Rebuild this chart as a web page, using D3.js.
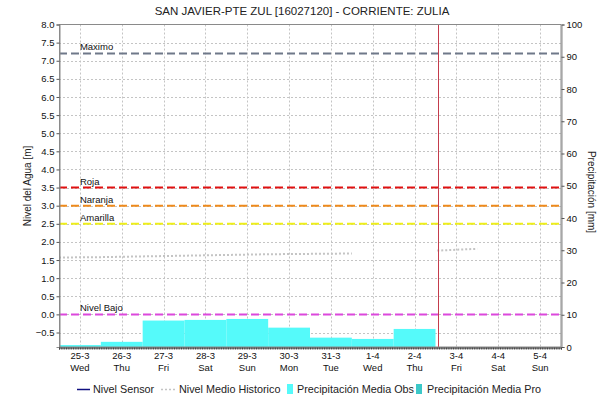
<!DOCTYPE html>
<html>
<head>
<meta charset="utf-8">
<script src="https://cdn.jsdelivr.net/npm/d3@7"></script>
<style>
  html,body{margin:0;padding:0;background:#fff;}
  svg{display:block;font-family:"Liberation Sans",Arial,sans-serif;}
</style>
</head>
<body>
<svg id="chart" width="605" height="406"></svg>
<script>
// ---------------- DATA ----------------
const title = "SAN JAVIER-PTE ZUL [16027120] - CORRIENTE: ZULIA";
const dayDates = ["2026-03-25","2026-03-26","2026-03-27","2026-03-28","2026-03-29","2026-03-30",
                  "2026-03-31","2026-04-01","2026-04-02","2026-04-03","2026-04-04","2026-04-05"];
const dayLabels = ["25-3","26-3","27-3","28-3","29-3","30-3","31-3","1-4","2-4","3-4","4-4","5-4"];
const weekdayLabels = ["Wed","Thu","Fri","Sat","Sun","Mon","Tue","Wed","Thu","Fri","Sat","Sun"];
const levelTicks = [-0.5,0,0.5,1,1.5,2,2.5,3,3.5,4,4.5,5,5.5,6,6.5,7,7.5,8];
const precipTicks = [0,10,20,30,40,50,60,70,80,90,100];

// daily observed mean precipitation [mm] (25-3 .. 2-4)
const precipObs = [0.6,1.6,8.2,8.4,8.7,6.0,2.9,2.5,5.6];
// forecast precipitation [mm] (none visible)
const precipPro = [];

// historic mean level [m]
const histSeg1Times = ["2026-03-25T00:00","2026-03-26T00:00","2026-03-27T00:00","2026-03-28T00:00",
                       "2026-03-29T00:00","2026-03-30T00:00","2026-03-31T00:00","2026-04-01T00:00"];
const histSeg1Values = [1.57,1.58,1.60,1.62,1.64,1.66,1.67,1.68];
const histSeg2Times = ["2026-04-03T01:00","2026-04-04T00:00"];
const histSeg2Values = [1.76,1.81];

// threshold levels [m]
const thresholdNames = ["Maximo","Roja","Naranja","Amarilla","Nivel Bajo"];
const thresholdValues = [7.2,3.5,3.0,2.5,0.0];

const nowTime = "2026-04-03T01:10";
const legendLabels = ["Nivel Sensor","Nivel Medio Historico","Precipitación Media Obs","Precipitación Media Pro"];

// ---------------- STYLE ----------------
const thresholdColors = {"Maximo":"#6f7889","Roja":"#e01010","Naranja":"#ee8a1c","Amarilla":"#eeee1a","Nivel Bajo":"#dc48dc"};
const obsColor = "#55fafa", proColor = "#3cc8c8", histColor = "#c4c4c4", sensorColor = "#101080";

// ---------------- CHART ----------------
const m = {left:59, right:561, top:24.5, bottom:347};
const svg = d3.select("#chart");
const parseT = d3.utcParse("%Y-%m-%dT%H:%M");
const parseD = d3.utcParse("%Y-%m-%d");

const days = dayDates.map(parseD);
const start = days[0];
const end = d3.utcDay.offset(days[days.length-1], 1);

const x = d3.scaleUtc().domain([start, end]).range([m.left, m.right]);
const yL = d3.scaleLinear().domain([-0.9, 8.0]).range([m.bottom, m.top]);
const yR = d3.scaleLinear().domain([0, 100]).range([m.bottom, m.top]);
const noon = d => d3.utcHour.offset(d, 12);

// grid
const g = svg.append("g");
g.selectAll("line.hg").data(levelTicks.filter(v => v < 8)).join("line")
  .attr("x1", m.left).attr("x2", m.right)
  .attr("y1", d => Math.round(yL(d))+0.5).attr("y2", d => Math.round(yL(d))+0.5)
  .attr("stroke", "#c4c4c4").attr("stroke-dasharray", "2,2");
g.selectAll("line.vg").data(days).join("line")
  .attr("x1", d => Math.round(x(noon(d)))+0.5).attr("x2", d => Math.round(x(noon(d)))+0.5)
  .attr("y1", m.top).attr("y2", m.bottom)
  .attr("stroke", "#c4c4c4").attr("stroke-dasharray", "2,2");

// precipitation bars
svg.append("g").selectAll("rect.obs").data(precipObs).join("rect")
  .attr("x", (d,i) => x(days[i]))
  .attr("width", (d,i) => x(d3.utcDay.offset(days[i],1)) - x(days[i]))
  .attr("y", d => yR(d))
  .attr("height", d => m.bottom - yR(d))
  .attr("fill", obsColor);
svg.append("g").selectAll("rect.pro").data(precipPro).join("rect")
  .attr("x", (d,i) => x(days[i+9]))
  .attr("width", (d,i) => x(d3.utcDay.offset(days[i+9],1)) - x(days[i+9]))
  .attr("y", d => yR(d)).attr("height", d => m.bottom - yR(d)).attr("fill", proColor);

// historic mean
const lineL = d3.line().x(d => x(d[0])).y(d => yL(d[1]));
[[histSeg1Times, histSeg1Values],[histSeg2Times, histSeg2Values]].forEach(([t,v]) => {
  svg.append("path").datum(t.map((s,i) => [parseT(s), v[i]]))
    .attr("d", lineL).attr("fill","none").attr("stroke", histColor)
    .attr("stroke-width", 2).attr("stroke-dasharray", "2,2");
});

// thresholds
thresholdNames.forEach((name,i) => {
  const yy = yL(thresholdValues[i]);
  svg.append("line").attr("x1", m.left).attr("x2", m.right - 2)
    .attr("y1", yy).attr("y2", yy)
    .attr("stroke", thresholdColors[name]).attr("stroke-width", 2)
    .attr("stroke-dasharray", "8,4");
  svg.append("text").attr("x", x(noon(days[0]))).attr("y", yy - 3)
    .attr("font-size", 9.5).attr("fill", "#111").text(name);
});

// now line
svg.append("line").attr("x1", Math.round(x(parseT(nowTime)))+0.5).attr("x2", Math.round(x(parseT(nowTime)))+0.5)
  .attr("y1", m.top).attr("y2", m.bottom).attr("stroke", "#c43c4c").attr("stroke-width", 1);

// frame
svg.append("rect").attr("x", m.left+0.5).attr("y", m.top).attr("width", m.right - m.left - 0.5)
  .attr("height", m.bottom - m.top).attr("fill","none").attr("stroke","#8a8a8a");

// axes
const axL = svg.append("g").attr("transform", `translate(${m.left+0.5},0)`)
  .call(d3.axisLeft(yL).tickValues(levelTicks).tickFormat(d3.format(".1f")).tickSize(3).tickPadding(2));
const axR = svg.append("g").attr("transform", `translate(${m.right+0.5},0)`)
  .call(d3.axisRight(yR).tickValues(precipTicks).tickFormat(d3.format("d")).tickSize(3).tickPadding(2));
const axB = svg.append("g").attr("transform", `translate(0,${m.bottom+0.5})`)
  .call(d3.axisBottom(x).ticks(d3.utcHour.every(1)).tickFormat("").tickSize(2));
[axL, axR, axB].forEach(a => {
  a.select(".domain").attr("stroke", "#8a8a8a");
  a.selectAll(".tick line").attr("stroke", "#555");
  a.selectAll("text").attr("font-size", 9.5).attr("fill", "#111").attr("font-family", "Liberation Sans, Arial, sans-serif");
});
axB.selectAll(".tick line").attr("stroke", "#444");
axB.select(".domain").attr("stroke", "#444").attr("stroke-width", 1);

// x labels
const xl = svg.append("g");
days.forEach((d,i) => {
  xl.append("text").attr("x", x(noon(d))).attr("y", 359).attr("text-anchor","middle")
    .attr("font-size", 9.5).attr("fill","#111").text(dayLabels[i]);
  xl.append("text").attr("x", x(noon(d))).attr("y", 371).attr("text-anchor","middle")
    .attr("font-size", 9.5).attr("fill","#111").text(weekdayLabels[i]);
});

// titles
svg.append("text").attr("x", 302).attr("y", 15).attr("text-anchor","middle")
  .attr("font-size", 11.5).attr("fill","#222").text(title);
svg.append("text").attr("transform", "translate(31,186) rotate(-90)").attr("text-anchor","middle")
  .attr("font-size", 10).attr("fill","#222").text("Nivel del Agua [m]");
svg.append("text").attr("transform", "translate(588,192) rotate(90)").attr("text-anchor","middle")
  .attr("font-size", 10).attr("fill","#222").text("Precipitación [mm]");

// legend
const lg = svg.append("g").attr("font-size", 10.8).attr("fill", "#222");
const ly = 393;
lg.append("line").attr("x1", 77).attr("x2", 90).attr("y1", ly-3.5).attr("y2", ly-3.5).attr("stroke", sensorColor).attr("stroke-width", 1.5);
lg.append("text").attr("x", 93).attr("y", ly).text(legendLabels[0]);
lg.append("line").attr("x1", 161).attr("x2", 175).attr("y1", ly-3.5).attr("y2", ly-3.5).attr("stroke", histColor).attr("stroke-width", 1.5).attr("stroke-dasharray","2,2");
lg.append("text").attr("x", 179).attr("y", ly).text(legendLabels[1]);
lg.append("rect").attr("x", 287).attr("y", ly-9).attr("width", 6).attr("height", 10).attr("fill", obsColor);
lg.append("text").attr("x", 297).attr("y", ly).text(legendLabels[2]);
lg.append("rect").attr("x", 416).attr("y", ly-9).attr("width", 6).attr("height", 10).attr("fill", proColor);
lg.append("text").attr("x", 427).attr("y", ly).text(legendLabels[3]);
</script>
</body>
</html>
